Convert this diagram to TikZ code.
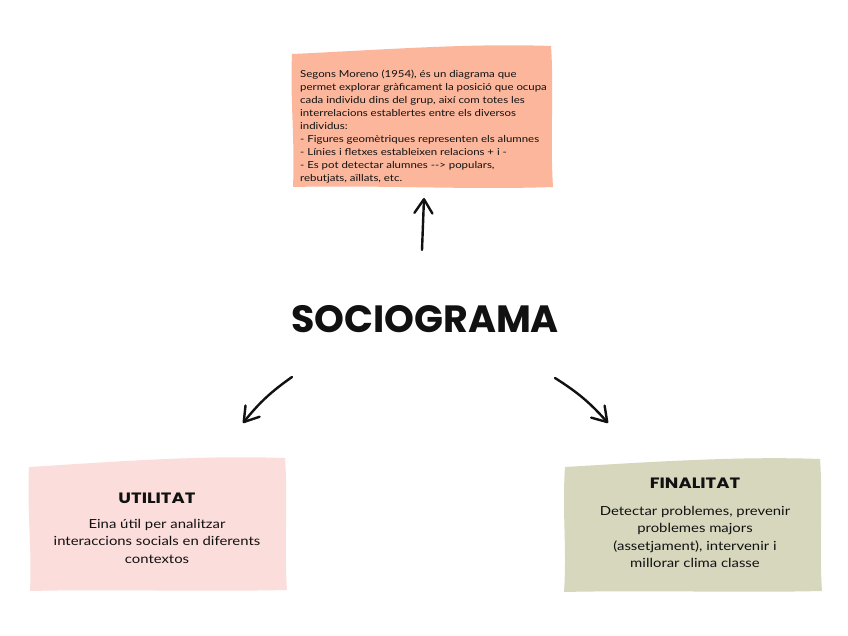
\documentclass[tikz,border=0pt]{standalone}
\usepackage{fontspec}
\setmainfont[FakeStretch=1.19]{Lato}
\newfontfamily\titlefont{Poppins}
\newfontfamily\headfont[FakeStretch=1.2]{Poppins}
\usetikzlibrary{arrows.meta}
\definecolor{salmonbox}{HTML}{FBB69C}
\definecolor{pinkbox}{HTML}{FBDDDB}
\definecolor{olivebox}{HTML}{D6D7BD}
\definecolor{ink}{HTML}{111111}
\tikzset{
  arr/.style={draw=ink, line width=2.4pt, line cap=round,
    -{Straight Barb[length=14pt,width=18pt,line width=2.4pt,round]}},
  body/.style={inner sep=0pt, align=center, text=ink, font=\fontsize{12.5}{17.5}\selectfont},
  heading/.style={inner sep=0pt, text=ink, font=\headfont\bfseries\fontsize{15}{18}\selectfont},
}
\begin{document}
\begin{tikzpicture}[x=1pt,y=-1pt]
\useasboundingbox (0,0) rectangle (848,636);
\fill[white] (0,0) rectangle (848,636);

% top box
\fill[salmonbox] (292,54) .. controls (380,50) and (470,43) .. (551,46)
  .. controls (554,90) and (550,140) .. (553,187)
  .. controls (470,190) and (380,185) .. (293,187)
  .. controls (295,140) and (290,100) .. (292,54) -- cycle;
\node[inner sep=0pt, anchor=north west, align=left, text=ink,
  font=\fontsize{9.6}{13}\selectfont] (def) at (300,70)
  {Segons Moreno (1954), és un diagrama que\\
   permet explorar gràficament la posició que ocupa\\
   cada individu dins del grup, així com totes les\\
   interrelacions establertes entre els diversos\\
   individus:\\
   - Figures geomètriques representen els alumnes\\
   - Línies i fletxes estableixen relacions + i -\\
   - Es pot detectar alumnes -{}-{}> populars,\\
   rebutjats, aïllats, etc.};

% left box
\fill[pinkbox] (29,467) .. controls (110,462) and (200,455) .. (285,458)
  .. controls (288,500) and (284,550) .. (287,590)
  .. controls (200,592) and (110,589) .. (30,591)
  .. controls (32,550) and (27,510) .. (29,467) -- cycle;
\node[heading] (ut) at (157,498) {UTILITAT};
\node[body, anchor=north] (utb) at (157,519)
  {Eina útil per analitzar\\ interaccions socials en diferents\\ contextos};

% right box
\fill[olivebox] (565,467) .. controls (650,462) and (740,456) .. (820,459)
  .. controls (823,500) and (819,550) .. (822,591)
  .. controls (740,593) and (650,590) .. (564,592)
  .. controls (567,550) and (562,510) .. (565,467) -- cycle;
\node[heading] (fi) at (695,483) {FINALITAT};
\node[body, anchor=north] (fib) at (695,506)
  {Detectar problemes, prevenir\\ problemes majors\\ (assetjament), intervenir i\\ millorar clima classe};

% central title
\node[inner sep=0pt, text=ink, font=\titlefont\bfseries\fontsize{38}{40}\selectfont] (soc) at (425,319) {SOCIOGRAMA};

% arrows
\coordinate (upS) at (422,250);
\coordinate (upE) at (424,198);
\coordinate (lS) at (292,377);
\coordinate (lE) at (243,423);
\coordinate (rS) at (555,378);
\coordinate (rE) at (608,423);
\draw[arr] (upS) -- (upE);
\draw[arr] (lS) to[bend right=8] (lE);
\draw[arr] (rS) to[bend left=8] (rE);
\end{tikzpicture}
\end{document}
